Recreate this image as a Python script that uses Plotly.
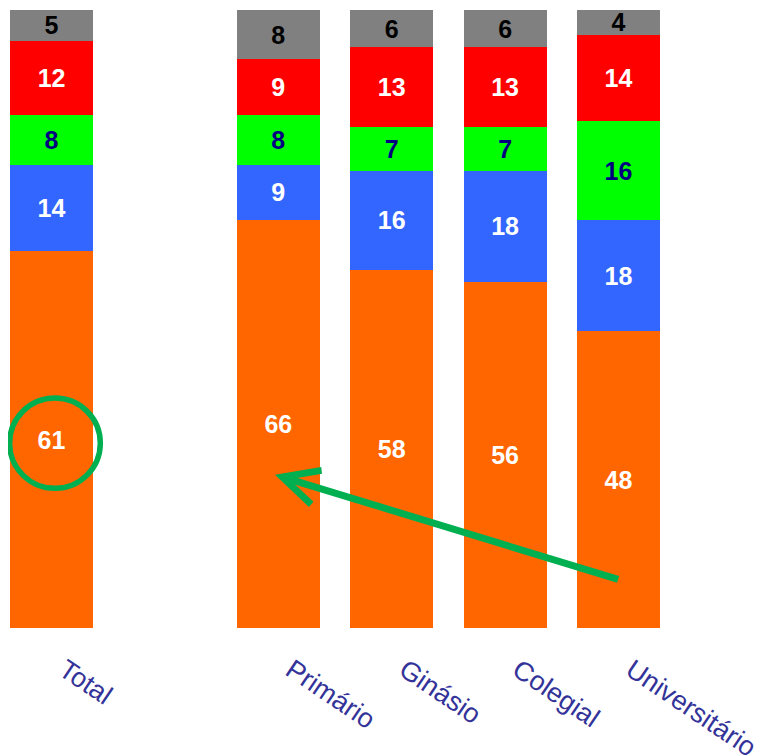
import plotly.graph_objects as go

categories = ["Total", "Primário", "Ginásio", "Colegial", "Universitário"]
positions = [0, 2, 3, 4, 5]
orange_vals = [61, 66, 58, 56, 48]
blue_vals = [14, 9, 16, 18, 18]
green_vals = [8, 8, 7, 7, 16]
red_vals = [12, 9, 13, 13, 14]
gray_vals = [5, 8, 6, 6, 4]

series = [
    (orange_vals, "#FF6600", "white"),
    (blue_vals, "#3366FF", "white"),
    (green_vals, "#00FF00", "#000080"),
    (red_vals, "#FF0000", "white"),
    (gray_vals, "#808080", "black"),
]

fig = go.Figure()
for vals, col, tcol in series:
    fig.add_trace(go.Bar(
        x=positions, y=vals, width=0.732,
        marker=dict(color=col, line=dict(width=0)),
        text=[str(v) for v in vals], textposition="inside",
        insidetextanchor="middle",
        textfont=dict(family="Liberation Sans, Arial", size=25, color=tcol, weight="bold"),
        constraintext="none", textangle=0,
        showlegend=False, hoverinfo="skip",
    ))

fig.update_layout(
    barmode="stack",
    width=759, height=748,
    margin=dict(l=0, r=0, t=2, b=128, autoexpand=False),
    paper_bgcolor="white", plot_bgcolor="white",
    uniformtext=dict(minsize=25, mode="show"),
    xaxis=dict(
        range=[-0.384, 6.31], tickvals=positions, ticktext=categories,
        tickangle=34, showgrid=False, zeroline=False, showline=False,
        ticks="", ticklabelstandoff=20, ticklabelshift=13, automargin=False,
        tickfont=dict(family="Liberation Sans, Arial", size=27, color="#333399"),
    ),
    yaxis=dict(range=[0, 100], visible=False, automargin=False),
)

# highlight circle around Total's orange value
fig.add_shape(type="circle", xref="x", yref="y",
              x0=0.03 - 0.40, x1=0.03 + 0.40, y0=29.9 - 7.3, y1=29.9 + 7.3,
              line=dict(color="#00B050", width=5.5))

# arrow from Universitário to Primário
fig.add_annotation(x=1.97, y=24.8, ax=5.01, ay=7.8, xref="x", yref="y",
                   axref="x", ayref="y", showarrow=True, text="",
                   arrowhead=5, arrowsize=1.0, arrowwidth=7, arrowcolor="#00B050")

fig.write_html("out.html")
